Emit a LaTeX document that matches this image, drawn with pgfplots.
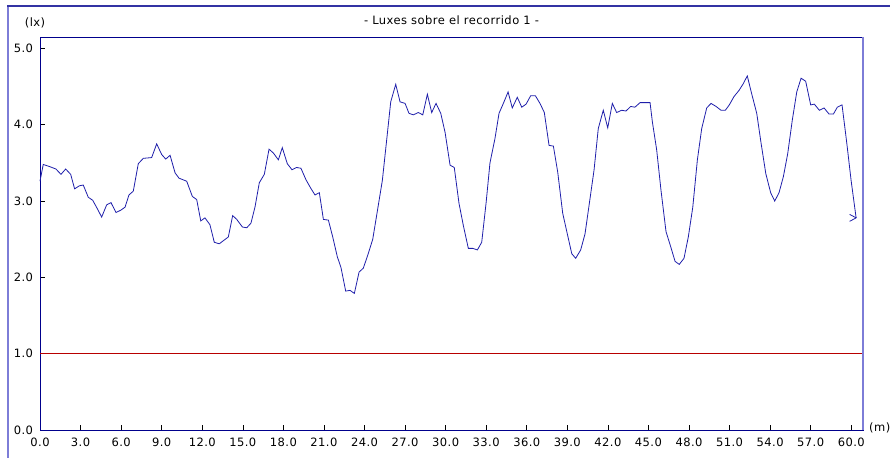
\documentclass[border=0pt]{standalone}
\usepackage{fontspec}
\setmainfont{DejaVu Sans}[LetterSpace=4]
\usepackage{pgfplots}
\pgfplotsset{compat=1.18}

\definecolor{lineblue}{RGB}{30,30,170}
\definecolor{axisblue}{RGB}{0,0,140}
\definecolor{edgelight}{RGB}{125,125,215}

% decimal tick labels, set in the text font
\pgfplotsset{lbl/.style={/pgf/number format/fixed,
  /pgf/number format/fixed zerofill,
  /pgf/number format/precision=1,
  /pgf/number format/assume math mode=true}}

\pgfdeclareplotmark{chev}{%
  \pgfpathmoveto{\pgfpoint{-6.5bp}{3.5bp}}%
  \pgfpathlineto{\pgfpoint{0bp}{0bp}}%
  \pgfpathlineto{\pgfpoint{-6.5bp}{-3.5bp}}%
  \pgfusepathqstroke}

\begin{document}
\fontsize{11.5bp}{13bp}\selectfont
\begin{tikzpicture}
\useasboundingbox (-40bp,-28bp) rectangle (850bp,430bp);
\draw[edgelight, line width=1.5bp] (-32bp,-30bp) -- (-32bp,424bp);
\draw[axisblue!80!white, line width=1.2bp] (-32.7bp,424bp) -- (852bp,424bp);

\begin{axis}[
    at={(0,0)}, anchor=south west,
    scale only axis,
    width=823bp, height=393bp,
    xmin=0, xmax=60.87,
    ymin=0, ymax=5.15,
    xtick={0,3,...,60},
    ytick={0,1,...,5},
    xtick pos=bottom, ytick pos=left,
    tick align=inside,
    major tick length=5bp,
    tick style={black, line width=0.6bp},
    axis line style={axisblue, line width=0.9bp},
    xticklabel style={lbl, yshift=-4bp},
    yticklabel style={lbl, xshift=-3bp},
    clip=false,
]
\addplot[color=red!72!black, line width=1.4bp, mark=none] coordinates {(0,1) (60.87,1)};

\addplot[lineblue, line width=0.8bp, mark=none] coordinates {
(0,3.26) (0.24,3.48) (0.74,3.45) (1.18,3.42) (1.55,3.35) (1.9,3.42) (2.27,3.35)
(2.56,3.16) (2.91,3.20) (3.2,3.21) (3.57,3.05) (3.9,3.01) (4.27,2.89) (4.56,2.79)
(4.93,2.95) (5.25,2.98) (5.62,2.85) (5.97,2.88) (6.29,2.92) (6.58,3.08) (6.9,3.13)
(7.27,3.49) (7.64,3.56) (8.26,3.57) (8.63,3.75) (9.0,3.61) (9.3,3.55) (9.62,3.60)
(9.99,3.37) (10.28,3.30) (10.85,3.26) (11.27,3.06) (11.59,3.02) (11.89,2.74)
(12.2,2.78) (12.57,2.69) (12.89,2.46) (13.26,2.44) (13.93,2.53) (14.25,2.81)
(14.55,2.76) (14.97,2.66) (15.29,2.65) (15.6,2.71)
(15.9,2.92) (16.22,3.24) (16.59,3.35) (16.94,3.68) (17.26,3.63) (17.63,3.54)
(17.92,3.70) (18.29,3.49) (18.64,3.41) (18.98,3.44) (19.3,3.43) (19.67,3.28)
(20.02,3.17) (20.34,3.08) (20.66,3.11) (20.96,2.76) (21.33,2.75) (21.65,2.53)
(21.99,2.27) (22.26,2.13) (22.61,1.82) (22.93,1.83) (23.25,1.79) (23.6,2.07)
(23.91,2.12) (24.24,2.29) (24.61,2.50) (24.98,2.90) (25.32,3.27) (25.64,3.80)
(25.94,4.30) (26.31,4.53) (26.63,4.30) (27.0,4.28) (27.29,4.15) (27.61,4.13)
(27.98,4.16) (28.31,4.13) (28.65,4.40) (28.97,4.16) (29.29,4.28) (29.64,4.15)
(29.96,3.90) (30.33,3.47) (30.64,3.44) (30.99,2.97) (31.31,2.68) (31.68,2.38)
(32.0,2.38) (32.35,2.36) (32.67,2.46) (32.99,2.97) (33.28,3.50) (33.65,3.82)
(33.95,4.15) (34.27,4.28) (34.62,4.43) (34.93,4.22) (35.3,4.36) (35.63,4.23)
(35.95,4.27) (36.29,4.38) (36.64,4.38) (36.98,4.28) (37.3,4.16) (37.65,3.73)
(37.97,3.72) (38.29,3.38) (38.66,2.84) (39.0,2.57) (39.33,2.31) (39.62,2.25)
(39.99,2.36) (40.31,2.57) (40.63,2.97) (40.98,3.41) (41.29,3.95) (41.66,4.19)
(41.99,3.96) (42.33,4.28) (42.65,4.16) (43.02,4.19) (43.34,4.18) (43.69,4.24)
(44.0,4.23) (44.38,4.29) (44.75,4.29) (45.12,4.29)
(45.29,4.04) (45.61,3.67) (45.93,3.14) (46.3,2.60) (46.65,2.40) (46.97,2.21)
(47.28,2.17) (47.63,2.25) (47.95,2.53) (48.28,2.92) (48.62,3.54) (48.94,3.95)
(49.31,4.22) (49.63,4.28) (50.0,4.24) (50.37,4.19) (50.69,4.19) (50.98,4.26)
(51.33,4.37) (51.7,4.45) (52.02,4.54) (52.31,4.64) (52.66,4.39) (53.01,4.15)
(53.33,3.76) (53.68,3.36) (54.04,3.11) (54.34,3.00) (54.66,3.11) (54.98,3.32)
(55.3,3.62) (55.64,4.06) (55.97,4.43) (56.29,4.61) (56.63,4.57) (57.0,4.26)
(57.27,4.27) (57.64,4.19) (57.99,4.22) (58.36,4.14) (58.68,4.14) (58.97,4.23)
(59.32,4.26) (59.67,3.76) (59.99,3.27) (60.36,2.78)
};
% end-of-run marker
\addplot[lineblue, line width=0.8bp, only marks, mark=chev] coordinates {(60.36,2.78)};

\draw[edgelight, line width=1.6bp] (rel axis cs:1,0) -- (rel axis cs:1,1);
\end{axis}

\node at (411.5bp,410bp) {- Luxes sobre el recorrido 1 -};
\node at (-5bp,407bp) {(lx)};
\node[anchor=west, inner sep=0pt] at (829bp,2bp) {(m)};
\end{tikzpicture}
\end{document}
